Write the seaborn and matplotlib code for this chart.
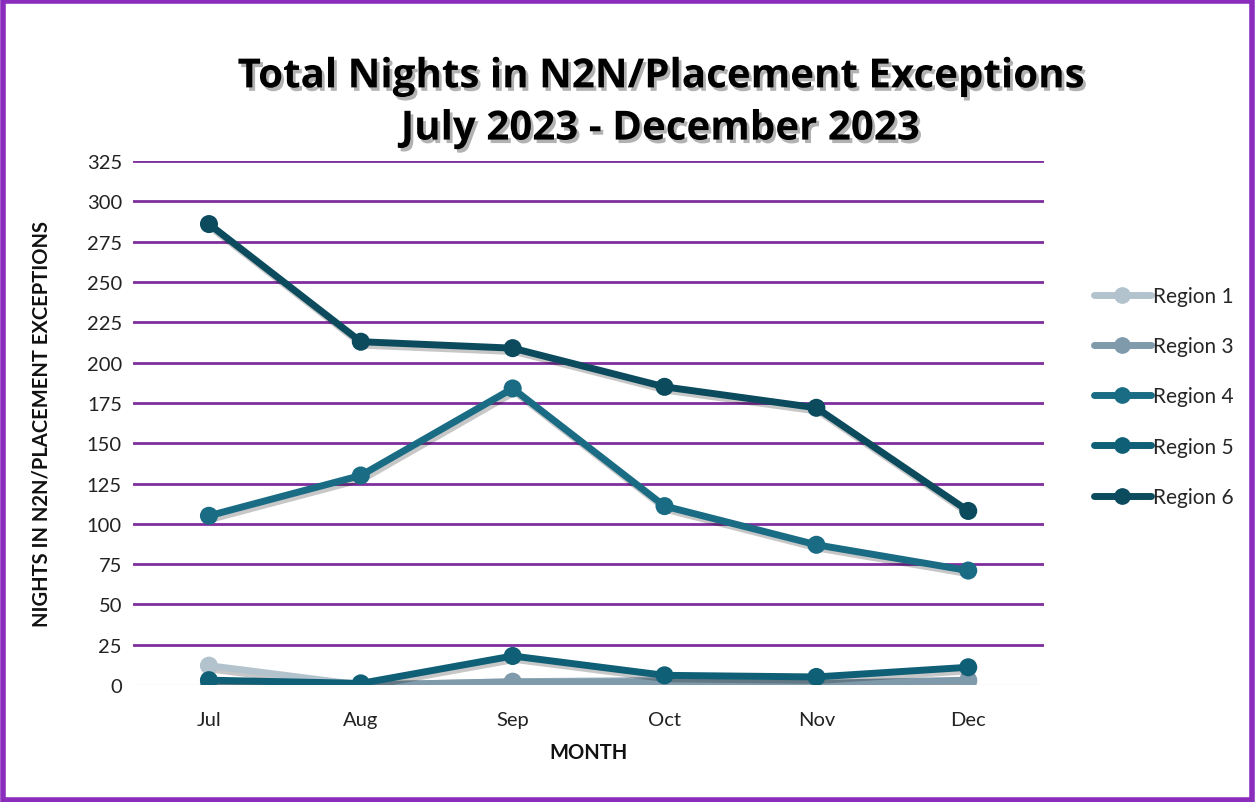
import matplotlib
matplotlib.use("Agg")
import matplotlib.pyplot as plt
import matplotlib.patheffects as pe
from matplotlib.patches import Rectangle
from matplotlib.lines import Line2D
import seaborn as sns
import pandas as pd

months = ["Jul", "Aug", "Sep", "Oct", "Nov", "Dec"]
regions = ["Region 1", "Region 3", "Region 4", "Region 5", "Region 6"]
region1 = [12, 0, 2, 3, 0, 2]
region3 = [1, 0, 2, 2, 1, 3]
region4 = [105, 130, 184, 111, 87, 71]
region5 = [3, 1, 18, 6, 5, 11]
region6 = [286, 213, 209, 185, 172, 108]
colors = ["#b3c3cd", "#7f9aab", "#1a6c84", "#0f5f77", "#0c4b5e"]

series = [region1, region3, region4, region5, region6]
rows = []
for name, vals in zip(regions, series):
    for m, v in zip(months, vals):
        rows.append({"Month": m, "Value": v, "Region": name})
df = pd.DataFrame(rows)

sns.set_theme(style="white")
plt.rcParams['font.family'] = ['Lato', 'DejaVu Sans']

fig = plt.figure(figsize=(12.55, 8.03), dpi=100)
ax = fig.add_axes([0.106, 0.1457, 0.726, 0.6523])

shadow = [pe.SimpleLineShadow(offset=(1.5, -2.5), shadow_color="black", alpha=0.22), pe.Normal()]
palette = dict(zip(regions, colors))
sns.lineplot(data=df, x="Month", y="Value", hue="Region", palette=palette,
             marker="o", markersize=13, linewidth=5, markeredgewidth=0,
             ax=ax, legend=False, sort=False)
for ln in ax.get_lines():
    ln.set_path_effects(shadow)

ax.set_xlim(-0.5, 5.5)
ax.set_ylim(0, 325)
ax.set_yticks(range(0, 326, 25))
for y in range(25, 326, 25):
    ax.axhline(y, color="#7e2f9d", linewidth=2, zorder=0)
ax.axhline(0, color="#eeeeee", linewidth=1, zorder=0)
for s in ax.spines.values():
    s.set_visible(False)
ax.tick_params(axis="both", length=0, labelsize=14.5, colors="#222222", pad=8)
ax.tick_params(axis="x", pad=19)
ax.set_xlabel("MONTH", fontsize=14.5, fontweight="bold", labelpad=10, color="#111111")
ax.set_ylabel("NIGHTS IN N2N/PLACEMENT EXCEPTIONS", fontsize=14.5, fontweight="bold",
              labelpad=25, color="#111111")

tfx = [pe.withSimplePatchShadow(offset=(2, -2.5), alpha=0.3)]
fig.text(0.526, 0.903, "Total Nights in N2N/Placement Exceptions", ha="center", va="center",
         fontsize=29, fontweight="bold", color="black", family=["Open Sans", "DejaVu Sans"],
         path_effects=tfx)
fig.text(0.526, 0.838, "July 2023 - December 2023", ha="center", va="center",
         fontsize=29, fontweight="bold", color="black", family=["Open Sans", "DejaVu Sans"],
         path_effects=tfx)

handles = [Line2D([0], [0], color=c, linewidth=5, marker="o", markersize=11) for c in colors]
fig.legend(handles, regions, loc="center left", bbox_to_anchor=(0.857, 0.505),
           frameon=False, fontsize=15, labelspacing=1.45, handlelength=2.7,
           handletextpad=0.1)

fig.patches.append(Rectangle((0.002, 0.003), 0.996, 0.994, transform=fig.transFigure,
                             fill=False, edgecolor="#8a2dbd", linewidth=4))

fig.savefig("out.png", dpi=100)
